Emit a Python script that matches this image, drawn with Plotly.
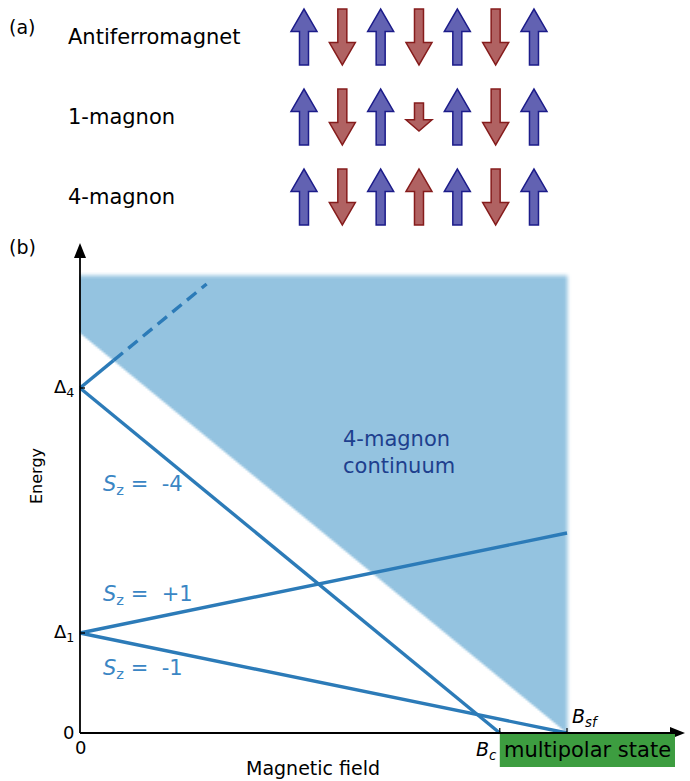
import numpy as np
import plotly.graph_objects as go

W, H = 690, 781
FONT = "DejaVu Sans"

# ---------------- panel (a): spin chains ----------------
row_labels = ["Antiferromagnet", "1-magnon", "4-magnon"]
spins = [
    [1, -1, 1, -1, 1, -1, 1],
    [1, -1, 1, -0.5, 1, -1, 1],
    [1, -1, 1, 1, 1, -1, 1],
]
sublattice = ["A", "B", "A", "B", "A", "B", "A"]

# ---------------- panel (b): level diagram ----------------
# field in units of B_sf, energy in units of Δ1
B_c, B_sf = 0.862, 1.0
D1, D4 = 1.0, 3.45

sz_m4_B, sz_m4_E = [0.0, B_c], [D4, 0.0]
sz_m1_B, sz_m1_E = [0.0, B_sf], [D1, 0.0]
sz_p1_B, sz_p1_E = [0.0, B_sf], [D1, 2.0]
sz_p4_solid_B, sz_p4_solid_E = [0.0, 0.069], [D4, 3.726]
sz_p4_dash_B, sz_p4_dash_E = [0.069, 0.26], [3.726, 4.49]

# lower edge and top of the 4-magnon continuum
cont_B, cont_E = [0.0, B_sf], [4.0, 0.0]
cont_top = 4.58

# ---------------- scales (pixels per unit) ----------------
PXB, PXE = 487.0, 100.0
X0, Y0 = 80.0, 733.0
xr = [-X0 / PXB, (W - X0) / PXB]
yr = [(Y0 - H) / PXE, Y0 / PXE]

SITE_PX, ROW_PX = 38.33, 80.0
SITE0_X, ROW0_Y = 304.0, 37.0
x2r = [-SITE0_X / SITE_PX, (W - SITE0_X) / SITE_PX]
y2r = [(H - ROW0_Y) / ROW_PX, -ROW0_Y / ROW_PX]

LINE_C = "#2c7bb8"
LABEL_C = "#3a86c4"

fig = go.Figure()

# continuum: soft-edged shaded region
gB = np.arange(0.0, 1.04, 2 / PXB)
gE = np.arange(0.0, 4.72, 2 / PXE)
BB, EE = np.meshgrid(gB, gE)


def soft(t):
    t = np.clip((t + 1) / 2, 0, 1)
    return t * t * (3 - 2 * t)


lower = np.interp(BB, cont_B, cont_E)
mask = (soft((B_sf - BB) * PXB / 4.0)
        * soft((cont_top - EE) * PXE / 4.0)
        * soft((EE - lower) * PXE / 2.0))
fig.add_trace(go.Heatmap(
    x=gB, y=gE, z=np.round(mask, 3), zmin=0, zmax=1, zsmooth="best",
    colorscale=[[0, "rgba(148,195,224,0)"], [1, "rgba(148,195,224,1)"]],
    showscale=False, hoverinfo="skip"))

lw = 3.4
for bx, ey in [(sz_m4_B, sz_m4_E), (sz_m1_B, sz_m1_E), (sz_p1_B, sz_p1_E),
               (sz_p4_solid_B, sz_p4_solid_E)]:
    fig.add_trace(go.Scatter(x=bx, y=ey, mode="lines",
                             line=dict(color=LINE_C, width=lw), hoverinfo="skip"))
fig.add_trace(go.Scatter(x=sz_p4_dash_B, y=sz_p4_dash_E, mode="lines",
                         line=dict(color=LINE_C, width=lw, dash="12px,7px"),
                         hoverinfo="skip"))

# placeholder trace so the spin-chain axes exist
fig.add_trace(go.Scatter(x=[0], y=[0], xaxis="x2", yaxis="y2", mode="markers",
                         marker=dict(opacity=0), hoverinfo="skip"))

shapes = []
# axes with arrowheads
E_tip = 4.9
B_tip = (685 - X0) / PXB
shapes.append(dict(type="line", x0=0, y0=0, x1=0, y1=E_tip - 0.05, xref="x", yref="y",
                   line=dict(color="black", width=1.8)))
shapes.append(dict(type="line", x0=0, y0=0, x1=B_tip - 6 / PXB, y1=0, xref="x", yref="y",
                   line=dict(color="black", width=1.8)))
hw, hl = 6.0, 15.0
shapes.append(dict(type="path", xref="x", yref="y", fillcolor="black", line=dict(width=0),
                   path=f"M {-hw/PXB} {E_tip-hl/PXE} L 0 {E_tip} L {hw/PXB} {E_tip-hl/PXE} Z"))
shapes.append(dict(type="path", xref="x", yref="y", fillcolor="black", line=dict(width=0),
                   path=f"M {B_tip-hl/PXB} {-hw/PXE} L {B_tip} 0 L {B_tip-hl/PXB} {hw/PXE} Z"))
# ticks
for e in [D4, D1]:
    shapes.append(dict(type="line", xref="x", yref="y", x0=0, x1=5 / PXB, y0=e, y1=e,
                       line=dict(color="black", width=1.4)))
for b in [B_c, B_sf]:
    shapes.append(dict(type="line", xref="x", yref="y", x0=b, x1=b, y0=0, y1=5 / PXE,
                       line=dict(color="black", width=1.2)))
# multipolar state box
box_right = (675 - X0) / PXB
shapes.append(dict(type="rect", xref="x", yref="y", x0=B_c, x1=box_right,
                   y0=-34 / PXE, y1=-1 / PXE, fillcolor="#3d9d40", line=dict(width=0)))

# spin arrows
ARROW_LEN = 56 / ROW_PX
SHAFT = 4.5 / SITE_PX
HEAD = 13 / SITE_PX
fills = {"A": ("#6262b2", "#1c1c8a"), "B": ("#b06262", "#861c1c")}
for r, row in enumerate(spins):
    for i, s in enumerate(row):
        L = abs(s) * ARROW_LEN
        d = 1 if s > 0 else -1
        tip = r - d * L / 2
        tail = r + d * L / 2
        base = tip + d * 0.4 * L
        path = (f"M {i-SHAFT} {tail} L {i-SHAFT} {base} L {i-HEAD} {base} L {i} {tip} "
                f"L {i+HEAD} {base} L {i+SHAFT} {base} L {i+SHAFT} {tail} Z")
        fc, lc = fills[sublattice[i]]
        shapes.append(dict(type="path", xref="x2", yref="y2", path=path,
                           fillcolor=fc, line=dict(color=lc, width=1.5)))

ann = []


def txt(text, x, y, size=20, color="black", xanchor="left", yanchor="middle",
        xref="paper", yref="paper", **kw):
    ann.append(dict(text=text, x=x, y=y, xref=xref, yref=yref, xanchor=xanchor,
                    yanchor=yanchor, showarrow=False,
                    font=dict(family=FONT, size=size, color=color), **kw))


def px(x):
    return x / W


def py(y):
    return 1 - y / H


txt("(a)", px(7), py(27), size=19)
txt("(b)", px(7), py(247), size=19)
for r, lab in enumerate(row_labels):
    txt(lab, px(66), r, size=21, yref="y2")

# level labels
sz_labels = ["-4", "+1", "-1"]
sz_label_y = [485, 595, 669]
for lab, yy in zip(sz_labels, sz_label_y):
    txt(f"<i>S</i><sub>z</sub> =  {lab}", px(101), py(yy), size=21, color=LABEL_C)

txt("4-magnon<br>continuum", px(341), py(453), size=21, color="#1e3f8e", align="left")

txt("Δ<sub>4</sub>", 0, D4, size=18, xref="x", yref="y", xanchor="right", xshift=-4)
txt("Δ<sub>1</sub>", 0, D1, size=18, xref="x", yref="y", xanchor="right", xshift=-4)
txt("0", 0, 0, size=18, xref="x", yref="y", xanchor="right", xshift=-4, yshift=1)
txt("0", 0, 0, size=18, xref="x", yref="y", xanchor="center", yanchor="top", yshift=-2)
txt("<i>B<sub>c</sub></i>", B_c, 0, size=19, xref="x", yref="y", xanchor="right",
    yanchor="top", xshift=-1, yshift=-3)
txt("<i>B<sub>sf</sub></i>", B_sf, 0, size=19, xref="x", yref="y", xanchor="left",
    yanchor="bottom", xshift=3, yshift=1)
txt("multipolar state", (B_c + box_right) / 2, -17 / PXE, size=21, xref="x", yref="y",
    xanchor="center")
txt("Energy", px(37), py(476), size=16, xanchor="center", textangle=-90)
txt("Magnetic field", px(313), py(768), size=19, xanchor="center")

fig.update_layout(
    width=W, height=H, margin=dict(l=0, r=0, t=0, b=0),
    paper_bgcolor="white", plot_bgcolor="white", showlegend=False,
    xaxis=dict(range=xr, domain=[0, 1], visible=False, fixedrange=True),
    yaxis=dict(range=yr, domain=[0, 1], visible=False, fixedrange=True),
    xaxis2=dict(range=x2r, overlaying="x", anchor="y2", visible=False, fixedrange=True),
    yaxis2=dict(range=y2r, overlaying="y", anchor="x2", visible=False, fixedrange=True),
    shapes=shapes, annotations=ann,
)

fig.write_html("out.html")
